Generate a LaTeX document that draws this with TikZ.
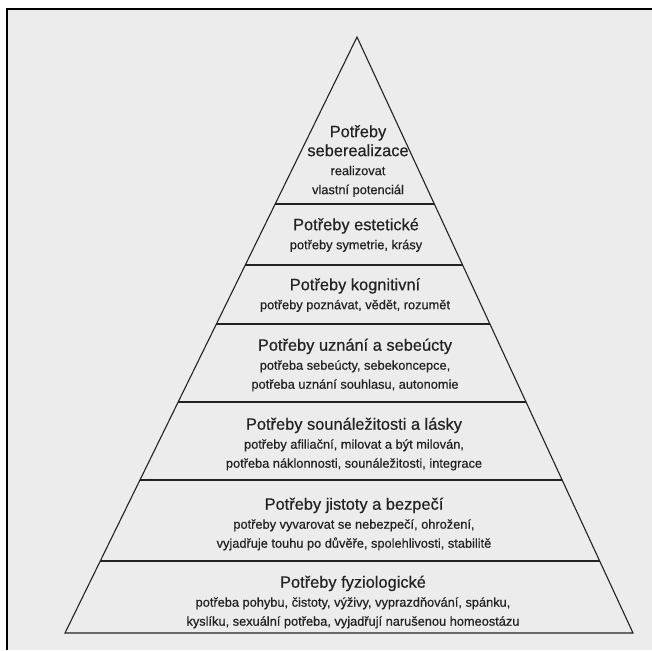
\documentclass[tikz,border=0pt]{standalone}
\usepackage{fontspec}
\setmainfont{Liberation Sans}[FakeBold=0.5]
\usetikzlibrary{calc}
\definecolor{PaperGray}{HTML}{ECECEC}
\definecolor{InkGray}{HTML}{222222}
\newcommand{\lvltitle}[1]{{\fontsize{16.4}{21}\selectfont #1}}

\begin{document}
\begin{tikzpicture}[
  x=1pt,y=-1pt,
  level/.style={align=center,text=InkGray,font=\fontsize{12.8}{19}\selectfont,inner sep=0pt},
  edge/.style={draw=InkGray,line width=1.1pt}
]
\useasboundingbox (0,0) rectangle (652,650);
\fill[PaperGray] (7,9) rectangle (652,650);
\draw[line width=2pt] (7,650) -- (7,9) -- (652,9);
% pyramid
\coordinate (apex) at (357,37);
\coordinate (bl) at (65,633);
\coordinate (br) at (633,633);
\draw[edge,line join=miter] (apex) -- (bl) -- (br) -- cycle;
\foreach \y in {204,265,324,402,480,561}
  \draw[edge] ($(apex)!{(\y-37)/596}!(bl)$) -- ($(apex)!{(\y-37)/596}!(br)$);
% levels
\node[level] (self) at (358,161) {\lvltitle{Potřeby}\\\lvltitle{seberealizace}\\realizovat\\vlastní potenciál};
\node[level] (aesth) at (356,235) {\lvltitle{Potřeby estetické}\\potřeby symetrie, krásy};
\node[level] (cogn) at (355,295) {\lvltitle{Potřeby kognitivní}\\potřeby poznávat, vědět, rozumět};
\node[level] (esteem) at (355,365) {\lvltitle{Potřeby uznání a sebeúcty}\\potřeba sebeúcty, sebekoncepce,\\potřeba uznání souhlasu, autonomie};
\node[level] (love) at (354,444) {\lvltitle{Potřeby sounáležitosti a lásky}\\potřeby afiliační, milovat a být milován,\\potřeba náklonnosti, sounáležitosti, integrace};
\node[level] (safety) at (354,524) {\lvltitle{Potřeby jistoty a bezpečí}\\potřeby vyvarovat se nebezpečí, ohrožení,\\vyjadřuje touhu po důvěře, spolehlivosti, stabilitě};
\node[level] (physio) at (353,602) {\lvltitle{Potřeby fyziologické}\\potřeba pohybu, čistoty, výživy, vyprazdňování, spánku,\\kyslíku, sexuální potřeba, vyjadřují narušenou homeostázu};
\end{tikzpicture}
\end{document}
